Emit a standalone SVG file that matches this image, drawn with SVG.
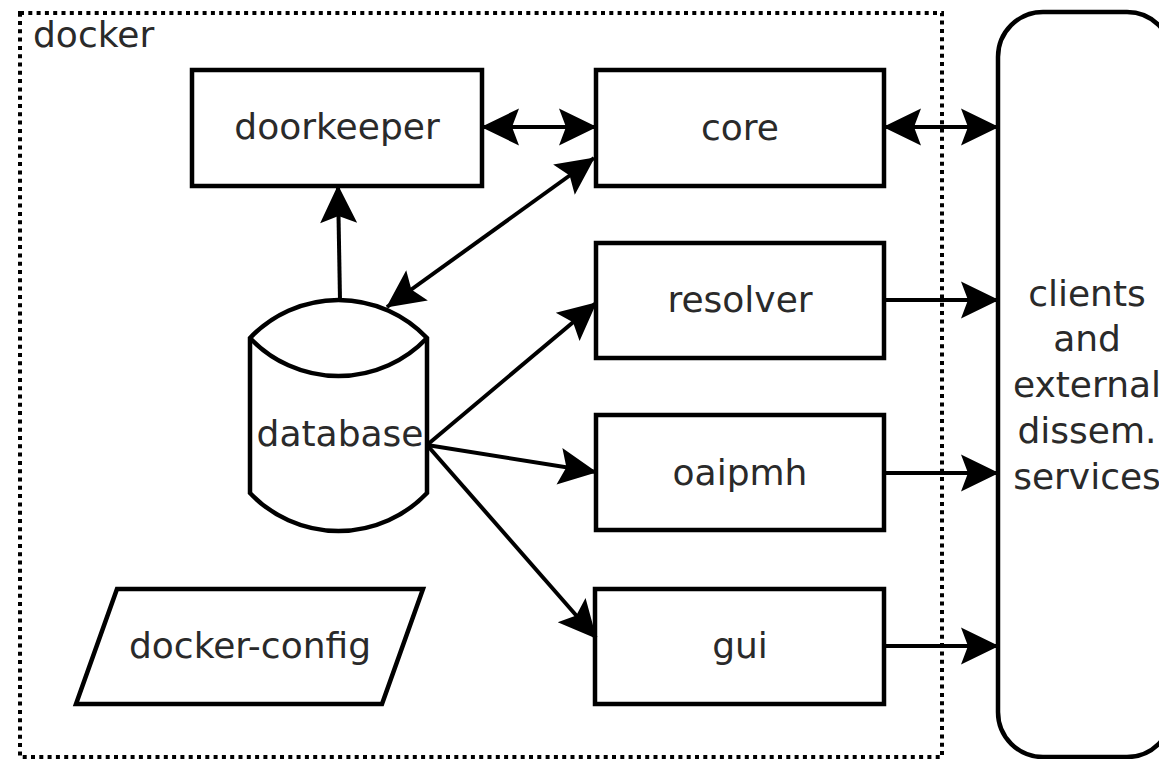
<svg xmlns="http://www.w3.org/2000/svg" width="1159" height="759" viewBox="0 0 1159 759">
  <style>
    .box { fill: #ffffff; stroke: #000000; stroke-width: 4.5; }
    .frame { fill: none; stroke: #000000; stroke-width: 4; stroke-dasharray: 4 4.3; }
    .label { font-family: "DejaVu Sans", "Liberation Sans", sans-serif; font-size: 36px; fill: #2a2a2a; text-anchor: middle; }
    .edge { fill: none; stroke: #000000; stroke-width: 4; }
    .one { marker-end: url(#head); }
    .both { marker-start: url(#head); marker-end: url(#head); }
  </style>
  <defs>
    <marker id="head" viewBox="-40 -20 42 40" refX="0" refY="0" markerWidth="42" markerHeight="40" markerUnits="userSpaceOnUse" orient="auto-start-reverse">
      <path d="M1,0 L-37,-18.5 L-30,0 L-37,18.5 Z" fill="#000000"/>
    </marker>
  </defs>
  <rect width="1159" height="759" fill="#ffffff"/>

  <!-- container -->
  <g id="docker">
    <rect class="frame" x="20" y="13" width="922" height="744"/>
    <text class="label" x="33" y="47" style="text-anchor:start">docker</text>
  </g>

  <!-- external side -->
  <g id="clients">
    <rect class="box" x="998" y="12" width="174" height="745" rx="45" ry="45"/>
    <text class="label" x="1087" y="306">clients</text>
    <text class="label" x="1087" y="351">and</text>
    <text class="label" x="1087" y="397">external</text>
    <text class="label" x="1087" y="443">dissem.</text>
    <text class="label" x="1087" y="489">services</text>
  </g>

  <g id="doorkeeper">
    <rect class="box" x="192" y="70" width="290" height="116"/>
    <text class="label" x="337" y="139">doorkeeper</text>
  </g>

  <g id="core">
    <rect class="box" x="596" y="70" width="288" height="116"/>
    <text class="label" x="740" y="140">core</text>
  </g>

  <g id="resolver">
    <rect class="box" x="596" y="243" width="288" height="115"/>
    <text class="label" x="740" y="312">resolver</text>
  </g>

  <g id="oaipmh">
    <rect class="box" x="596" y="415" width="288" height="115"/>
    <text class="label" x="740" y="485">oaipmh</text>
  </g>

  <g id="gui">
    <rect class="box" x="595" y="589" width="289" height="115"/>
    <text class="label" x="740" y="658">gui</text>
  </g>

  <g id="database">
    <path class="box" d="M250,338 A122,122 0 0 1 427,338 L427,493 A122,122 0 0 1 250,493 Z"/>
    <path class="box" style="fill:none" d="M250,338 A122,122 0 0 0 427,338"/>
    <text class="label" x="340" y="446">database</text>
  </g>

  <g id="docker-config">
    <polygon class="box" points="117,589 423,589 382,704 76,704"/>
    <text class="label" x="250" y="658">docker-config</text>
  </g>

  <!-- connectors -->
  <g id="connectors">
    <line class="edge both" x1="482" y1="127" x2="596" y2="127"/>
    <line class="edge both" x1="884" y1="127" x2="998" y2="127"/>
    <line class="edge one" x1="340" y1="300" x2="338" y2="186"/>
    <line class="edge both" x1="387" y1="307" x2="594" y2="158"/>
    <line class="edge one" x1="427" y1="445" x2="596" y2="303"/>
    <line class="edge one" x1="427" y1="445" x2="596" y2="472"/>
    <line class="edge one" x1="427" y1="445" x2="596" y2="638"/>
    <line class="edge one" x1="884" y1="300" x2="998" y2="300"/>
    <line class="edge one" x1="884" y1="473" x2="998" y2="473"/>
    <line class="edge one" x1="884" y1="646" x2="998" y2="646"/>
  </g>
</svg>
